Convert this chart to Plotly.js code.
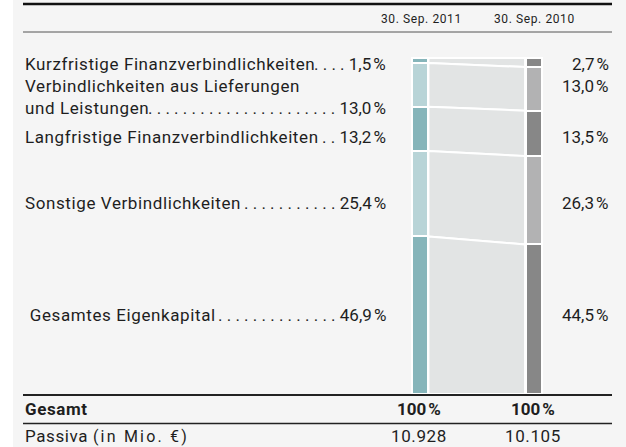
<!DOCTYPE html>
<html><head><meta charset="utf-8">
<script src="https://cdn.plot.ly/plotly-3.0.1.min.js"></script>
<style>html,body{margin:0;padding:0;background:#fff}#chart{width:626px;height:447px}
.annotation-text{letter-spacing:0.6px}</style>
</head><body><div id="chart"></div>
<script>
// ---- data ----
const periods = ['30. Sep. 2011', '30. Sep. 2010'];
const categories = [
  'Kurzfristige Finanzverbindlichkeiten',
  'Verbindlichkeiten aus Lieferungen\nund Leistungen',
  'Langfristige Finanzverbindlichkeiten',
  'Sonstige Verbindlichkeiten',
  ' Gesamtes Eigenkapital'
];
const share2011 = [1.5, 13.0, 13.2, 25.4, 46.9];
const share2010 = [2.7, 13.0, 13.5, 26.3, 44.5];
const totalLabel = 'Gesamt';
const totals = [100, 100];
const passivaLabel = 'Passiva';
const passivaUnit = '(in Mio. €)';
const passiva = [10928, 10105];

// ---- style ----
const W = 626, H = 447;
const FONT = 'Roboto, "Open Sans", sans-serif';
const TXT = '#1e1e1e';
const BG = '#f5f5f5';
const darkCol = ['#86b5ba', '#878787'];
const lightCol = ['#b8d4d7', '#b2b2b3'];
const bandCol = '#e2e4e4';
const pxPerUnitX = 113.5, x0px = 420;
const barW = 16 / pxPerUnitX;
const pxPerPct = 3.36, topPx = 58;
const rowY = [[64], [86, 108], [137], [203], [315]];
const leaderDots = [4, 22, 2, 11, 14];   // typographic dot leaders per row
const leftX = 23, leftRight = 388, rightRight = 611, ruleRight = 612;
const fs = 17;

const px = x => x / W, py = y => 1 - y / H;
const fmtPct = v => v.toFixed(1).replace('.', ',') + '\u202F%';
const fmtNum = v => v.toLocaleString('de-DE');

// ---- bars (stacked from bottom: reverse order) ----
const traces = [];
const n = categories.length;
for (let k = n - 1; k >= 0; k--) {
  const dark = (k % 2 === 0);
  traces.push({
    type: 'bar', x: [0, 1], y: [share2011[k], share2010[k]], width: barW,
    marker: { color: dark ? darkCol : lightCol, line: { color: '#ffffff', width: 2 } },
    hoverinfo: 'skip', showlegend: false
  });
}
// ---- connecting bands ----
function tops(arr) {
  const res = []; let acc = 0;
  for (let k = arr.length - 1; k >= 0; k--) { res[k] = [acc, acc + arr[k]]; acc += arr[k]; }
  return res;
}
const c11 = tops(share2011), c10 = tops(share2010);
const bx0 = barW / 2 + 0.004, bx1 = 1 - barW / 2 - 0.004;
for (let k = 0; k < n; k++) {
  traces.push({
    type: 'scatter', mode: 'lines', fill: 'toself', fillcolor: bandCol,
    x: [bx0, bx1, bx1, bx0, bx0],
    y: [c11[k][1], c10[k][1], c10[k][0], c11[k][0], c11[k][1]],
    line: { color: '#ffffff', width: 2 }, hoverinfo: 'skip', showlegend: false
  });
}

// ---- annotations ----
const ann = [];
function A(text, x, y, anchor, size, bold) {
  ann.push({ text: bold ? '<b>' + text + '</b>' : text, xref: 'paper', yref: 'paper', x: px(x), y: py(y),
    xanchor: anchor, yanchor: 'middle', showarrow: false,
    font: { family: FONT, size: size, color: TXT } });
}
periods.forEach((p, i) => A(p, x0px + i * pxPerUnitX + 1, 19, 'center', 12));
categories.forEach((c, k) => {
  const lines = c.split('\n');
  const ys = rowY[k];
  const yl = ys[ys.length - 1];
  for (let j = 0; j < lines.length; j++) A(lines[j], leftX, ys[j], 'left', fs);
  A('. '.repeat(leaderDots[k]) + fmtPct(share2011[k]), leftRight, yl, 'right', fs);
  A(fmtPct(share2010[k]), rightRight, ys[0], 'right', fs);
});
A(totalLabel, leftX, 409, 'left', fs, true);
totals.forEach((t, i) => A(t + '\u202F%', x0px + i * pxPerUnitX - 1, 409, 'center', fs, true));
A(passivaLabel + ' <span style="font-size:16px;letter-spacing:2.2px">' + passivaUnit + '</span>', leftX, 436, 'left', fs);
passiva.forEach((v, i) => A(fmtNum(v), x0px + i * pxPerUnitX - 1, 436, 'center', fs));

// ---- shapes ----
const shapes = [
  { type: 'rect', xref: 'paper', yref: 'paper', x0: px(13), x1: 1, y0: 0, y1: 1, fillcolor: BG, line: { width: 0 }, layer: 'below' },
  { type: 'line', xref: 'paper', yref: 'paper', x0: px(leftX), x1: px(ruleRight), y0: py(4), y1: py(4), line: { color: '#111', width: 2.5 }, layer: 'above' },
  { type: 'line', xref: 'paper', yref: 'paper', x0: px(leftX), x1: px(ruleRight), y0: py(32), y1: py(32), line: { color: '#555', width: 1 }, layer: 'above' },
  { type: 'line', xref: 'paper', yref: 'paper', x0: px(leftX), x1: px(ruleRight), y0: py(395), y1: py(395), line: { color: '#222', width: 1.8 }, layer: 'above' },
  { type: 'line', xref: 'paper', yref: 'paper', x0: px(leftX), x1: px(ruleRight), y0: py(423.5), y1: py(423.5), line: { color: '#222', width: 1.5 }, layer: 'above' }
];

const xmin = -x0px / pxPerUnitX, xmax = xmin + W / pxPerUnitX;
const ymax = 100 + topPx / pxPerPct, ymin = ymax - H / pxPerPct;

Plotly.newPlot('chart', traces, {
  width: W, height: H, margin: { l: 0, r: 0, t: 0, b: 0 },
  paper_bgcolor: '#ffffff', plot_bgcolor: 'rgba(0,0,0,0)',
  barmode: 'stack', bargap: 0,
  xaxis: { range: [xmin, xmax], visible: false, fixedrange: true },
  yaxis: { range: [ymin, ymax], visible: false, fixedrange: true },
  annotations: ann, shapes: shapes, font: { family: FONT }
}, { staticPlot: true });
</script></body></html>
